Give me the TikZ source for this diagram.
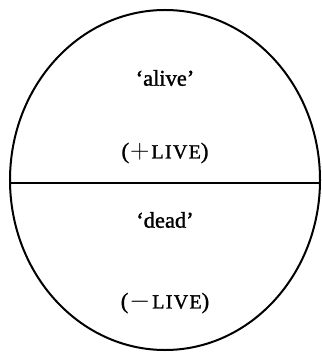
\documentclass[tikz,border=0pt]{standalone}
\usepackage{fontspec}
\setmainfont{Liberation Serif}[BoldFont={Liberation Serif}, BoldFeatures={FakeBold=1.3}]
\usetikzlibrary{shapes.geometric}
\newcommand{\capslive}{{\fontsize{20}{22}\selectfont L\hspace{1.3pt}I\hspace{1.3pt}V\hspace{1.3pt}E}}
\begin{document}
\begin{tikzpicture}[x=1pt,y=-1pt,
  lbl/.style={inner sep=0pt, font=\fontsize{22.5}{25}\selectfont\bfseries},
  outline/.style={line width=2pt}]
\useasboundingbox (0,0) rectangle (321,352);
\node[outline, draw, ellipse, minimum width=310pt, minimum height=340pt, inner sep=0pt] (e) at (165,180) {};
\coordinate (l) at (9,183);
\coordinate (r) at (321,183);
\draw[outline] (l) -- (r);
\node[lbl] (alive) at (165,78) {`alive'};
\node[lbl] (plive) at (165,153) {(\hspace{1pt}\scalebox{1.3}{$+$}\hspace{2pt}\capslive)};
\node[lbl] (dead) at (165,220) {`dead'};
\node[lbl] (mlive) at (165,303) {(\hspace{1pt}\scalebox{1.3}{$-$}\hspace{2pt}\capslive)};
\end{tikzpicture}
\end{document}
